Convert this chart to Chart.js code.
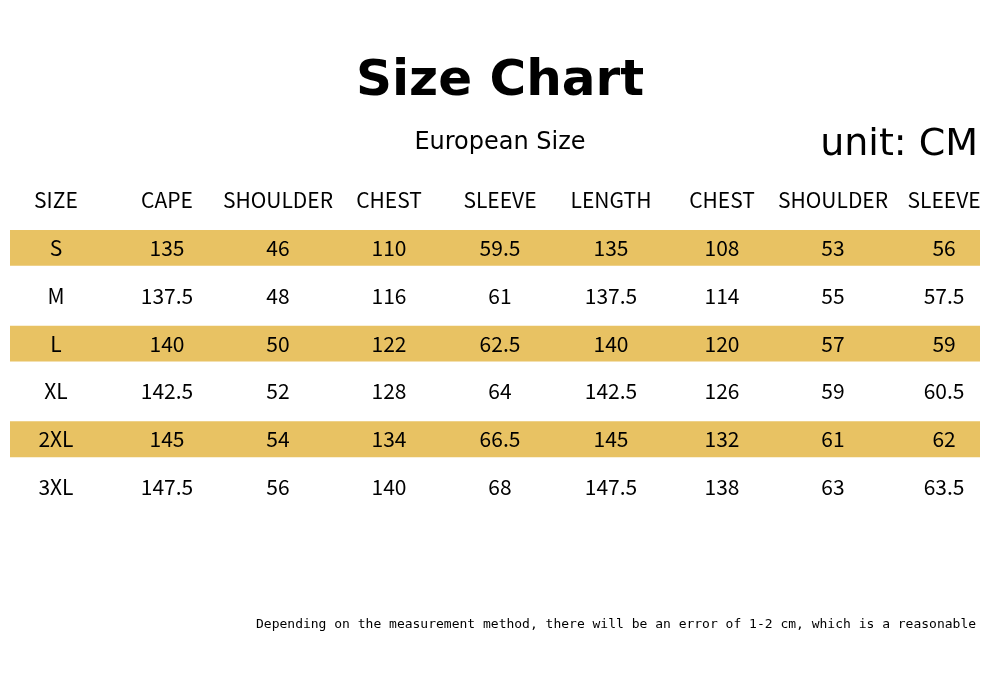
<!DOCTYPE html>
<html>
<head>
<meta charset="utf-8">
<script src="https://cdn.jsdelivr.net/npm/chart.js@4"></script>
<style>
  body { margin: 0; background: #fff; }
  canvas { display: block; }
</style>
</head>
<body>
<canvas id="sizeChart" width="1000" height="679"></canvas>
<script>
const headers = ['SIZE', 'CAPE', 'SHOULDER', 'CHEST', 'SLEEVE', 'LENGTH', 'CHEST', 'SHOULDER', 'SLEEVE'];
const sizes = ['S', 'M', 'L', 'XL', '2XL', '3XL'];
const cape = ['135', '137.5', '140', '142.5', '145', '147.5'];
const shoulder = ['46', '48', '50', '52', '54', '56'];
const chest = ['110', '116', '122', '128', '134', '140'];
const sleeve = ['59.5', '61', '62.5', '64', '66.5', '68'];
const length = ['135', '137.5', '140', '142.5', '145', '147.5'];
const chest2 = ['108', '114', '120', '126', '132', '138'];
const shoulder2 = ['53', '55', '57', '59', '61', '63'];
const sleeve2 = ['56', '57.5', '59', '60.5', '62', '63.5'];
const striped = [true, false, true, false, true, false];

const columns = [sizes, cape, shoulder, chest, sleeve, length, chest2, shoulder2, sleeve2];

// table text drawn on the library's scales
const tableText = {
    id: 'tableText',
    afterDatasetsDraw(chart) {
        const ctx = chart.ctx;
        const x = chart.scales.x;
        const y = chart.scales.y;
        const rowGap = y.getPixelForValue(1) - y.getPixelForValue(0);
        ctx.save();
        ctx.fillStyle = '#000';
        ctx.textAlign = 'center';
        ctx.textBaseline = 'middle';

        ctx.font = 'bold 50px "DejaVu Sans", sans-serif';
        ctx.fillText('Size Chart', 500, 82);
        ctx.font = '24px "DejaVu Sans", sans-serif';
        ctx.fillText('European Size', 500, 143);
        ctx.font = '38px "DejaVu Sans", sans-serif';
        ctx.textAlign = 'right';
        ctx.fillText('unit: CM', 978, 145);
        ctx.textAlign = 'center';

        ctx.font = '21px "Noto Sans CJK SC", sans-serif';
        headers.forEach((h, c) => {
            ctx.fillText(h, x.getPixelForValue(c), y.getPixelForValue(0) - rowGap);
        });
        columns.forEach((col, c) => {
            col.forEach((v, r) => {
                ctx.fillText(v, x.getPixelForValue(c), y.getPixelForValue(r));
            });
        });

        ctx.font = '13px "DejaVu Sans Mono", monospace';
        ctx.textAlign = 'left';
        ctx.beginPath();
        ctx.rect(0, 600, 983, 50);
        ctx.clip();
        ctx.fillText('Depending on the measurement method, there will be an error of 1-2 cm, which is a reasonable range', 256, 625);
        ctx.restore();
    }
};

new Chart(document.getElementById('sizeChart'), {
    type: 'bar',
    data: {
        labels: sizes,
        datasets: [{
            data: striped.map(s => s ? [-0.414, 8.324] : null),
            backgroundColor: '#E8C263',
            borderWidth: 0,
            barPercentage: 1,
            categoryPercentage: 0.75
        }]
    },
    options: {
        indexAxis: 'y',
        responsive: false,
        animation: false,
        layout: { padding: { left: 10, right: 20, top: 224, bottom: 168 } },
        scales: {
            x: { type: 'linear', min: -0.414, max: 8.324, display: false },
            y: { display: false, offset: true }
        },
        plugins: { legend: { display: false }, tooltip: { enabled: false } }
    },
    plugins: [tableText]
});
</script>
</body>
</html>
